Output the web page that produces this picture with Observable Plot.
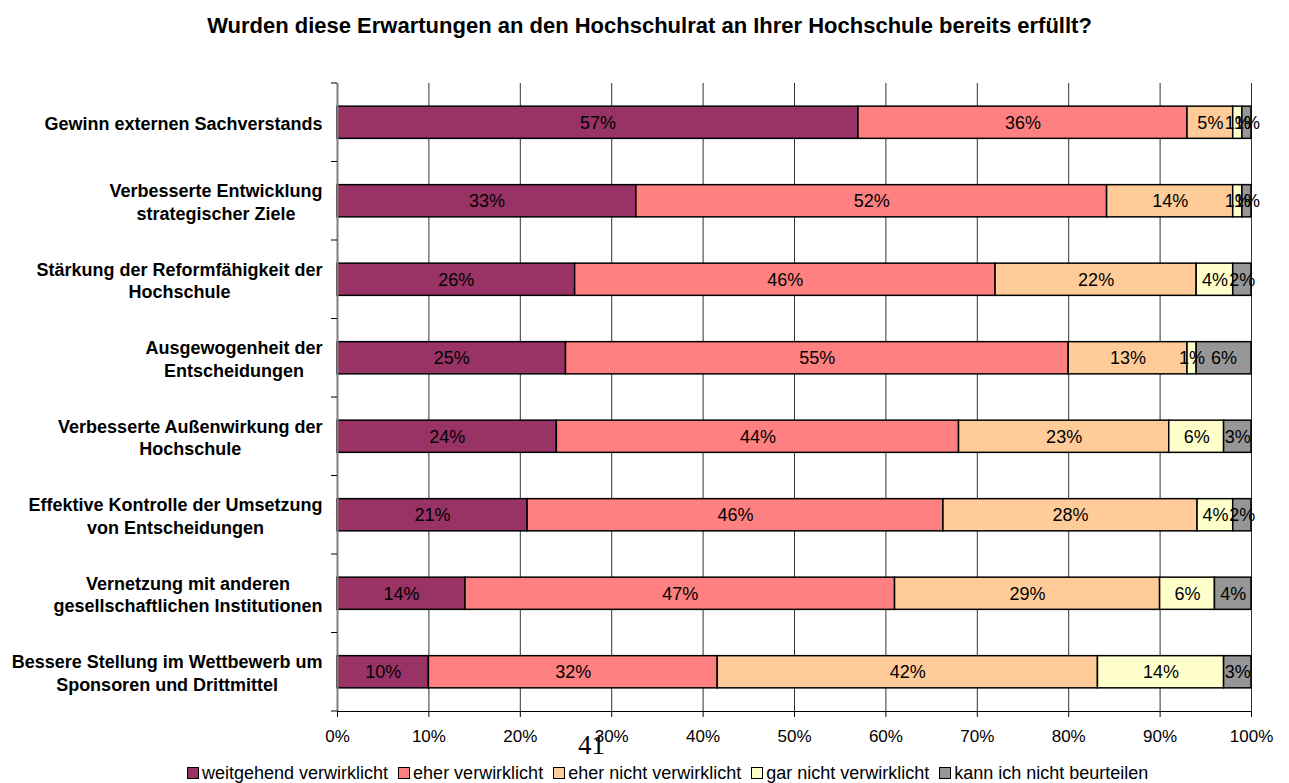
<!DOCTYPE html>
<html><head><meta charset="utf-8">
<script src="https://cdn.jsdelivr.net/npm/d3@7"></script>
<script src="https://cdn.jsdelivr.net/npm/@observablehq/plot@0.6"></script>
<style>
body{margin:0;background:#fff;font-family:Arial,"Liberation Sans",sans-serif;}
#wrap{position:relative;width:1289px;height:783px;overflow:hidden;}
#title{position:absolute;top:13px;left:5px;width:1289px;height:26px;line-height:26px;text-align:center;font-weight:bold;font-size:22px;}
#chart{position:absolute;top:60px;left:0;}
#page{position:absolute;left:578px;top:730px;font-family:"Liberation Serif","Times New Roman",serif;font-size:27px;line-height:30px;}
#legend{position:absolute;left:187px;top:763px;height:20px;display:flex;align-items:center;font-size:18px;white-space:nowrap;}
.item{display:flex;align-items:center;margin-right:10px}
.sw{width:10px;height:10px;border:1.5px solid #000;margin-right:3px}
</style></head><body>
<div id="wrap">
<div id="title">Wurden diese Erwartungen an den Hochschulrat an Ihrer Hochschule bereits erfüllt?</div>
<div id="chart"></div>
<div id="page">41</div>
<div id="legend"></div>
</div>
<script>
const categories = [
  "Gewinn externen Sachverstands",
  "Verbesserte Entwicklung\nstrategischer Ziele",
  "Stärkung der Reformfähigkeit der\nHochschule",
  "Ausgewogenheit der\nEntscheidungen",
  "Verbesserte Außenwirkung der\nHochschule",
  "Effektive Kontrolle der Umsetzung\nvon Entscheidungen",
  "Vernetzung mit anderen\ngesellschaftlichen Institutionen",
  "Bessere Stellung im Wettbewerb um\nSponsoren und Drittmittel"
];
const seriesNames = ["weitgehend verwirklicht","eher verwirklicht","eher nicht verwirklicht","gar nicht verwirklicht","kann ich nicht beurteilen"];
const weitgehend = [57, 32.7, 26, 25, 24, 20.8, 14, 10];
const eher       = [36, 51.5, 46, 55, 44, 45.5, 47, 31.6];
const eherNicht  = [5, 13.8, 22, 13, 23, 27.8, 29, 41.6];
const garNicht   = [1, 1, 4, 1, 6, 3.9, 6, 13.8];
const kann       = [1, 1, 2, 6, 3, 2, 4, 3];
const xTicks = [0,10,20,30,40,50,60,70,80,90,100];
const colors = ["#993366","#FF8080","#FFCC99","#FFFFCC","#969696"];

const seriesValues = [weitgehend, eher, eherNicht, garNicht, kann];
const data = [];
categories.forEach((c,i)=> seriesNames.forEach((s,j)=> data.push({cat:c, series:s, value: seriesValues[j][i]})));

const plot = Plot.plot({
  width:1289, height:700, marginTop:23, marginBottom:49, marginLeft:337, marginRight:38,
  style:{fontFamily:"Arial, 'Liberation Sans', sans-serif", fontSize:"17px", color:"#000", background:"#fff", overflow:"visible"},
  x:{domain:[0,100], label:null},
  y:{domain:categories, paddingInner:0.59, paddingOuter:0.295, round:false, label:null},
  color:{domain:seriesNames, range:colors},
  marks:[
    Plot.ruleX(xTicks.slice(1), {stroke:"#333", strokeWidth:1, strokeOpacity:1}),
    Plot.barX(data, {x:"value", y:"cat", fill:"series", order:seriesNames, stroke:"#000", strokeWidth:1.5}),
    Plot.text(data, Plot.stackX({x:"value", y:"cat", z:"series", order:seriesNames, text:d=>Math.round(d.value)+"%", fill:"#000", fontSize:18})),
    Plot.ruleX([0], {stroke:"#808080", strokeWidth:2}),
    Plot.frame({anchor:"bottom", stroke:"#000"}),
    Plot.axisX({ticks:xTicks, tickFormat:d=>d+"%", tickSize:6, tickPadding:12, fontSize:17, label:null}),
    Plot.axisY({tickSize:0, tickPadding:15, fontWeight:"bold", fontSize:18, lineHeight:1.25, label:null})
  ]
});
document.getElementById("chart").appendChild(plot);

// boundary ticks on the category axis
const ys = plot.scale("y"), xs = plot.scale("x");
const gap = ys.step - ys.bandwidth;
const x0 = xs.apply(0);
const g = d3.select(plot).append("g").attr("stroke","#000").attr("stroke-width",1);
categories.forEach(c => {
  const y = ys.apply(c) - gap/2;
  g.append("line").attr("x1", x0-6).attr("x2", x0).attr("y1", y).attr("y2", y);
});
const yb = ys.apply(categories[categories.length-1]) + ys.bandwidth + gap/2;
g.append("line").attr("x1", x0-6).attr("x2", x0).attr("y1", yb).attr("y2", yb);

// center multi-line category labels
d3.select(plot).selectAll('[aria-label="y-axis tick label"] text').each(function(){
  const ts = this.querySelectorAll("tspan");
  if (ts.length > 1) {
    const w = Array.from(ts, t => t.getComputedTextLength());
    const m = Math.max(...w);
    this.setAttribute("text-anchor","middle");
    ts.forEach(t => t.setAttribute("x", -m/2));
  }
});

// legend
const leg = d3.select("#legend");
seriesNames.forEach((s,i)=>{
  const it = leg.append("div").attr("class","item");
  it.append("div").attr("class","sw").style("background", colors[i]);
  it.append("span").text(s);
});
</script>
</body></html>
